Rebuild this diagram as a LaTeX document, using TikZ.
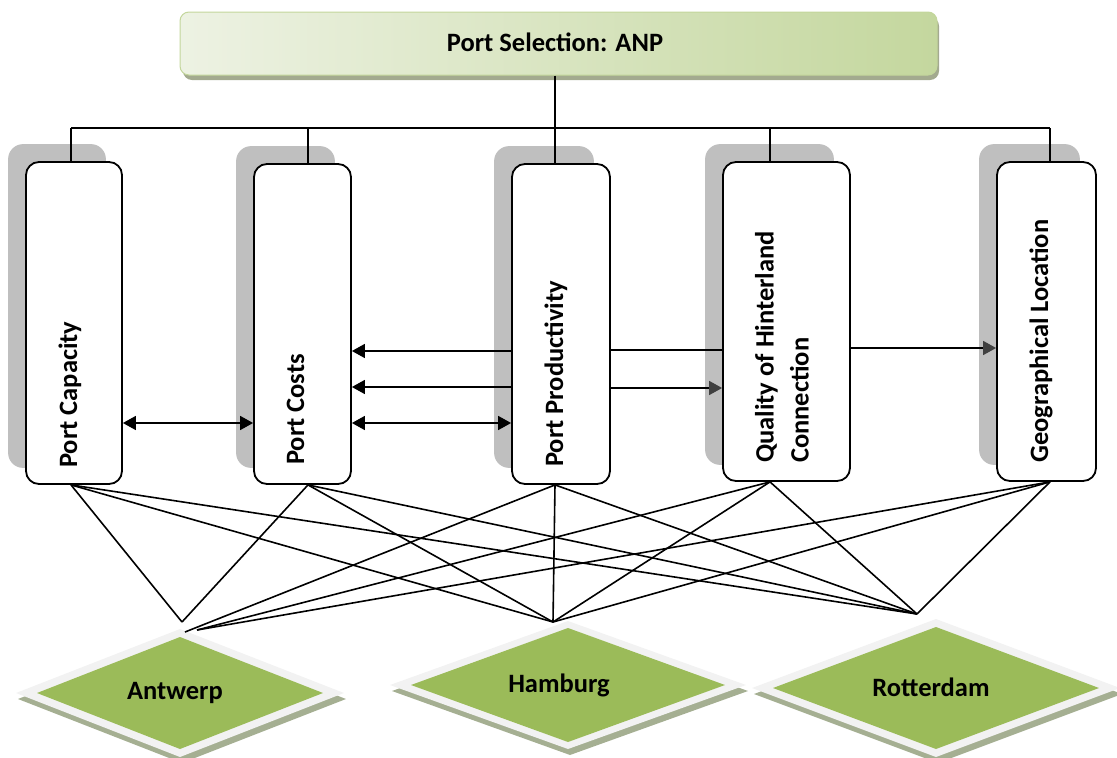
\documentclass[tikz,border=0pt]{standalone}
\usepackage{fontspec}
\setmainfont{Carlito}
\usetikzlibrary{arrows.meta,calc}
\definecolor{boxshadow}{HTML}{BFBFBF}
\definecolor{anpL}{HTML}{EDF2E3}
\definecolor{anpR}{HTML}{C4D79E}
\definecolor{anpEdge}{HTML}{C3D69B}
\definecolor{anpShadow}{HTML}{A3AA8F}
\definecolor{portGreen}{HTML}{9BBB59}
\definecolor{portEdge}{HTML}{F2F2F2}
\definecolor{portShadow}{HTML}{A5AF92}
\definecolor{tipGray}{HTML}{404040}
\pgfdeclarelayer{bg}
\pgfsetlayers{bg,main}
\begin{document}
\begin{tikzpicture}[x=1pt,y=1pt,line width=1.5pt,
  crit/.style={draw=black,fill=white,rounded corners=13pt,inner sep=0pt,line width=1.8pt},
  lbl/.style={rotate=90,anchor=west,inner sep=0pt,text height=17pt,text depth=5pt,
              font=\bfseries\fontsize{26.5}{35}\selectfont},
  portlbl/.style={inner sep=0pt,font=\bfseries\fontsize{26.5}{31}\selectfont},
  link/.style={draw=black,line width=1.6pt},
  both/.style={link,{Triangle[length=13pt,width=14pt]}-{Triangle[length=13pt,width=14pt]}},
  toL/.style={link,{Triangle[length=13pt,width=14pt]}-},
  toR/.style={link,-{Triangle[length=13pt,width=14pt,color=tipGray]}}
]
\useasboundingbox (0,0) rectangle (1117,-758);

% top box
\fill[anpShadow,rounded corners=9pt] (183,-17) rectangle (939,-80);
\node[draw=anpEdge,line width=1pt,rounded corners=9pt,left color=anpL,right color=anpR,
      minimum width=757pt,minimum height=63pt,inner sep=0pt] (anp) at (558.5,-43.5) {};
\node[inner sep=0pt,font=\bfseries\fontsize{26.5}{31}\selectfont] (anpT) at (555,-42) {Port Selection: ANP};

% criteria boxes
\node[crit,minimum width=96pt,minimum height=322pt] (cap) at (74,-323) {};
\node[crit,minimum width=97pt,minimum height=320pt] (cost) at (302.5,-324) {};
\node[crit,minimum width=98pt,minimum height=320pt] (prod) at (561,-324) {};
\node[crit,minimum width=127pt,minimum height=319pt] (qual) at (786.5,-321.5) {};
\node[crit,minimum width=99pt,minimum height=319pt] (geo) at (1046.5,-321.5) {};

\begin{pgfonlayer}{bg}
  \foreach \n in {cap,cost,prod,qual,geo}{
    \fill[boxshadow,rounded corners=15pt] ($(\n.south west)+(-17,17)$) rectangle ($(\n.north east)+(-17,17)$);
  }
\end{pgfonlayer}

\node[lbl] (capL) at (71,-468) {Port Capacity};
\node[lbl] (costL) at (298,-465) {Port Costs};
\node[lbl] (prodL) at (557,-467) {Port Productivity};
\node[lbl,align=left,text height=,text depth=] (qualL) at (782,-463) {Quality of Hinterland\\Connection};
\node[lbl] (geoL) at (1042,-463) {Geographical Location};

% hierarchy bus
\coordinate (busL) at (71,-128);
\coordinate (busR) at (1050,-128);
\draw[link] (busL) -- (busR);
\draw[link] ([xshift=-3.5pt]anp.south) -- ([xshift=-3.5pt]anp.south |- busL);
\draw[link] ([xshift=-3pt]cap.north) -- ([xshift=-3pt]cap.north |- busL);
\draw[link] ([xshift=5.5pt]cost.north) -- ([xshift=5.5pt]cost.north |- busL);
\draw[link] ([xshift=-6pt]prod.north) -- ([xshift=-6pt]prod.north |- busL);
\draw[link] ([xshift=-16.5pt]qual.north) -- ([xshift=-16.5pt]qual.north |- busL);
\draw[link] ([xshift=3.5pt]geo.north) -- ([xshift=3.5pt]geo.north |- busL);

% interdependencies
\draw[both] (cap.east |- 0,-423) -- (cost.west |- 0,-423);
\draw[toL] (cost.east |- 0,-351) -- (prod.west |- 0,-351);
\draw[toL] (cost.east |- 0,-387) -- (prod.west |- 0,-387);
\draw[both] (cost.east |- 0,-423) -- (prod.west |- 0,-423);
\draw[link] (prod.east |- 0,-350) -- (qual.west |- 0,-350);
\draw[toR] (prod.east |- 0,-388) -- (qual.west |- 0,-388);
\draw[toR] (qual.east |- 0,-348) -- (geo.west |- 0,-348);

% alternatives (diamonds)
\foreach \cx/\cy/\ow/\oh/\gw/\gh in {180/-693/164/64/143/56, 568/-685/178/64/157/57, 936/-688/184/69/163/61}{
  \fill[portShadow] (\cx-\ow+2,\cy-6) -- (\cx+2,\cy+\oh-6) -- (\cx+\ow+2,\cy-6) -- (\cx+2,\cy-\oh-6) -- cycle;
  \fill[portEdge] (\cx-\ow,\cy) -- (\cx,\cy+\oh) -- (\cx+\ow,\cy) -- (\cx,\cy-\oh) -- cycle;
  \fill[portGreen] (\cx-\gw,\cy) -- (\cx,\cy+\gh) -- (\cx+\gw,\cy) -- (\cx,\cy-\gh) -- cycle;
}
\node[portlbl] (ant) at (175,-693) {Antwerp};
\node[portlbl] (ham) at (559,-685) {Hamburg};
\node[portlbl] (rot) at (931,-687) {Rotterdam};

% connection points
\coordinate (antA) at (182,-622);
\coordinate (antB) at (185,-632);
\coordinate (antC) at (197,-630);
\coordinate (hamP) at (553,-622);
\coordinate (rotP) at (917,-614);

\coordinate (capB) at ([xshift=-3pt]cap.south);
\coordinate (costB) at ([xshift=5.5pt]cost.south);
\coordinate (prodB) at ([xshift=-6pt]prod.south);
\coordinate (qualB) at ([xshift=-16.5pt]qual.south);
\coordinate (geoB) at ([xshift=3.5pt]geo.south);

\draw[link] (capB) -- (antA);
\draw[link] (costB) -- (antA);
\draw[link] (prodB) -- (antB);
\draw[link] (qualB) -- (antC);
\draw[link] (geoB) -- (antC);
\foreach \s in {capB,costB,prodB,qualB,geoB}{
  \draw[link] (\s) -- (hamP);
  \draw[link] (\s) -- (rotP);
}
\end{tikzpicture}
\end{document}
